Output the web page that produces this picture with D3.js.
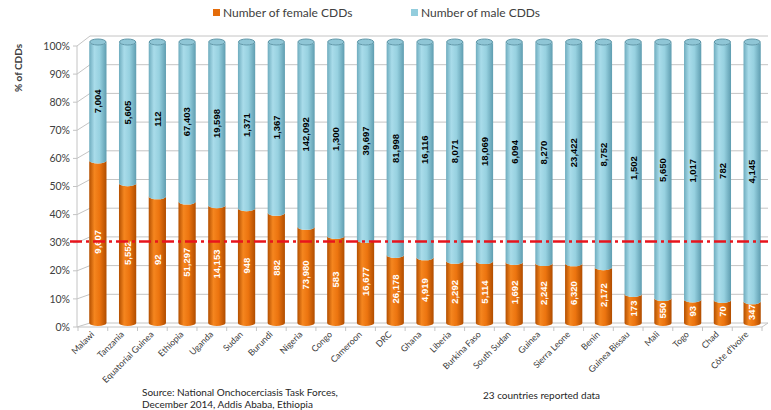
<!DOCTYPE html>
<html>
<head>
<meta charset="utf-8">
<script src="https://cdn.jsdelivr.net/npm/d3@7"></script>
<style>
  body { margin: 0; background: #fff; }
  svg { display: block; font-family: "Lato", "Liberation Sans", sans-serif; }
</style>
</head>
<body>
<div class="viz"></div>
<script>
// data
const countries = ["Malawi", "Tanzania", "Equatorial Guinea", "Ethiopia", "Uganda", "Sudan", "Burundi",
  "Nigeria", "Congo", "Cameroon", "DRC", "Ghana", "Liberia", "Burkina Faso", "South Sudan", "Guinea",
  "Sierra Leone", "Benin", "Guinea Bissau", "Mali", "Togo", "Chad", "Côte d'Ivoire"];
const femaleCDDs = [9607, 5552, 92, 51297, 14153, 948, 882, 73980, 583, 16677, 26178, 4919, 2292,
  5114, 1692, 2242, 6320, 2172, 173, 550, 93, 70, 347];
const maleCDDs = [7004, 5605, 112, 67403, 19598, 1371, 1367, 142092, 1300, 39697, 81998, 16116, 8071,
  18069, 6094, 8270, 23422, 8752, 1502, 5650, 1017, 782, 4145];
const yTicks = [0, 10, 20, 30, 40, 50, 60, 70, 80, 90, 100];
const refLine = 29; // red dash-dot reference (%)
const seriesNames = ["Number of female CDDs", "Number of male CDDs"];

const width = 771, height = 410;
const svg = d3.select(".viz").append("svg")
  .attr("width", width).attr("height", height);

const defs = svg.append("defs");
function cylGrad(id, stops) {
  const g = defs.append("linearGradient").attr("id", id)
    .attr("x1", "0%").attr("x2", "100%").attr("y1", "0%").attr("y2", "0%");
  stops.forEach(s => g.append("stop").attr("offset", s[0]).attr("stop-color", s[1]));
}
cylGrad("gOrange", [["0%", "#b34f00"], ["30%", "#f5861f"], ["60%", "#ec740f"], ["100%", "#b04d00"]]);
cylGrad("gBlue", [["0%", "#6eacbe"], ["30%", "#a9dcea"], ["60%", "#97d1e0"], ["100%", "#5f9db0"]]);

// front y scale (labels) and back-wall offset
const yFront = d3.scaleLinear().domain([0, 100]).range([327, 46]);
const backDx = 13;
const backDy = v => -(4 + 6 * v / 100);
const x0 = 77, xRight = 768;

// bar scales (mid-depth)
const x = d3.scaleBand().domain(countries).range([83, 767]).paddingInner(0.42).paddingOuter(0.21);
const yBar = d3.scaleLinear().domain([0, 1]).range([323, 42]);

// walls / gridlines
const grid = svg.append("g").attr("stroke", "#c4c4c4").attr("fill", "none").attr("stroke-width", 1);
yTicks.forEach(v => {
  const yf = yFront(v), yb = yf + backDy(v);
  grid.append("line").attr("x1", x0).attr("y1", yf).attr("x2", x0 + backDx).attr("y2", yb);
  grid.append("line").attr("x1", x0 + backDx).attr("y1", yb).attr("x2", xRight).attr("y2", yb);
  grid.append("line").attr("x1", x0 - 4).attr("y1", yf).attr("x2", x0).attr("y2", yf);
});
grid.append("line").attr("x1", x0).attr("y1", yFront(0)).attr("x2", x0).attr("y2", yFront(100));
grid.append("line").attr("x1", x0).attr("y1", yFront(0)).attr("x2", xRight - 6).attr("y2", yFront(0));
grid.append("line").attr("x1", xRight - 6).attr("y1", yFront(0)).attr("x2", xRight).attr("y2", yFront(0) + backDy(0));
countries.forEach((c, i) => {
  const bx = x(c) - (x.step() - x.bandwidth()) / 2 - 5;
  grid.append("line").attr("x1", bx).attr("y1", yFront(0)).attr("x2", bx).attr("y2", yFront(0) + 4);
});
grid.append("line").attr("x1", xRight - 6).attr("y1", yFront(0)).attr("x2", xRight - 6).attr("y2", yFront(0) + 4);

// y tick labels
svg.append("g").selectAll("text").data(yTicks).join("text")
  .attr("x", 70).attr("y", d => yFront(d)).attr("dy", "0.35em")
  .attr("text-anchor", "end").attr("font-size", 10.5).attr("fill", "#404040")
  .text(d => d + "%");

svg.append("text")
  .attr("transform", `translate(22,68) rotate(-90)`)
  .attr("text-anchor", "middle").attr("font-size", 10).attr("font-weight", "bold").attr("fill", "#404040")
  .text("% of CDDs");

// cylinders
const rx = x.bandwidth() / 2, ry = 3;
function segPath(xl, yTop, yBot) {
  const xr = xl + 2 * rx;
  return `M${xl},${yTop} A${rx},${ry} 0 0 0 ${xr},${yTop} L${xr},${yBot} A${rx},${ry} 0 0 1 ${xl},${yBot} Z`;
}
const fmt = d3.format(",");
const bars = svg.append("g");
countries.forEach((c, i) => {
  const tot = femaleCDDs[i] + maleCDDs[i];
  const pf = femaleCDDs[i] / tot;
  const xl = x(c), cx = xl + rx;
  bars.append("path").attr("d", segPath(xl, yBar(pf), yBar(0))).attr("fill", "url(#gOrange)");
  bars.append("path").attr("d", segPath(xl, yBar(1), yBar(pf))).attr("fill", "url(#gBlue)");
  bars.append("ellipse").attr("cx", cx).attr("cy", yBar(1)).attr("rx", rx - 0.5).attr("ry", ry)
    .attr("fill", "#8fc6d6").attr("stroke", "#5f97a8").attr("stroke-width", 1);

  bars.append("text")
    .attr("transform", `translate(${cx},${(yBar(1) + yBar(pf)) / 2}) rotate(-90)`)
    .attr("text-anchor", "middle").attr("dy", "0.35em")
    .attr("font-family", "Liberation Sans, sans-serif")
    .attr("font-size", 9.5).attr("font-weight", "bold").attr("fill", "#000")
    .text(fmt(maleCDDs[i]));
  bars.append("text")
    .attr("transform", `translate(${cx},${(yBar(pf) + yBar(0)) / 2}) rotate(-90)`)
    .attr("text-anchor", "middle").attr("dy", "0.35em")
    .attr("font-family", "Liberation Sans, sans-serif")
    .attr("font-size", 9.5).attr("font-weight", "bold").attr("fill", "#fff")
    .text(fmt(femaleCDDs[i]));
});

// reference line
svg.append("line")
  .attr("x1", 70).attr("x2", xRight)
  .attr("y1", yBar(refLine / 100)).attr("y2", yBar(refLine / 100))
  .attr("stroke", "#e8141c").attr("stroke-width", 2.5)
  .attr("stroke-dasharray", "12,4,3,4");

// x labels
svg.append("g").selectAll("text").data(countries).join("text")
  .attr("transform", d => `translate(${x(d) + rx - 3},${335}) rotate(-45)`)
  .attr("text-anchor", "end").attr("font-size", 8.8).attr("fill", "#404040")
  .text(d => d);

// legend
const legend = svg.append("g").attr("font-size", 12).attr("fill", "#404040");
[[213, "#e46c0a"], [411, "#93cddd"]].forEach((l, i) => {
  legend.append("rect").attr("x", l[0]).attr("y", 9).attr("width", 7).attr("height", 7).attr("fill", l[1]);
  legend.append("text").attr("x", l[0] + 10).attr("y", 13).attr("dy", "0.35em").text(seriesNames[i]);
});

// notes
const notes = svg.append("g").attr("font-size", 10).attr("fill", "#262626");
notes.append("text").attr("x", 142).attr("y", 396).text("Source: National Onchocerciasis Task Forces,");
notes.append("text").attr("x", 142).attr("y", 408).text("December 2014,  Addis Ababa, Ethiopia");
notes.append("text").attr("x", 483).attr("y", 399).text("23 countries reported data");
</script>
</body>
</html>
